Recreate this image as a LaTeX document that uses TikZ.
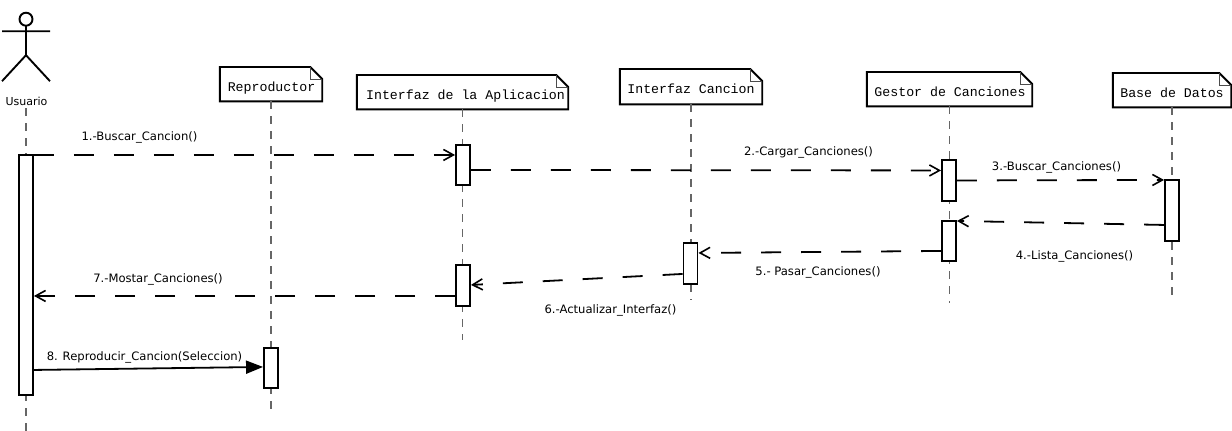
\documentclass[tikz,border=0pt]{standalone}
\usepackage{fontspec}
\setmainfont{DejaVu Sans}
\newfontfamily\notefont{Liberation Mono}
\usetikzlibrary{arrows.meta}
\newcommand{\notebox}[5]{%
  \node[notebody,minimum width=#3pt,minimum height=#4pt] (#1) at (#2) {\raisebox{-7pt}[0pt][0pt]{#5}};
  \draw[noteline] (#1.north west) -- ([xshift=-12pt]#1.north east) -- ([yshift=-12pt]#1.north east) -- (#1.south east) -- (#1.south west) -- cycle;
  \draw[foldline] ([xshift=-12pt]#1.north east) -- ([xshift=-12pt,yshift=-12pt]#1.north east) -- ([yshift=-12pt]#1.north east);
}
\tikzset{
  notebody/.style={fill=white,inner sep=0pt,font=\notefont\fontsize{13.25}{15}\selectfont,text=black},
  noteline/.style={line width=1.9pt,black},
  foldline/.style={line width=0.8pt,black!70},
  lifeline/.style={line width=1.2pt,black!60,dash pattern=on 8pt off 7pt},
  bar/.style={draw=black,fill=white,line width=1.9pt,minimum width=14pt,inner sep=0pt},
  msg/.style={line width=1.8pt,black,dash pattern=on 20pt off 20pt,-{Straight Barb[length=10pt,width=11pt,line width=1.6pt]}},
  syncmsg/.style={line width=1.8pt,black,-{Triangle[length=17pt,width=13pt]}},
  lbl/.style={inner sep=0pt,font=\fontsize{11.6}{13}\selectfont,text=black},
  actor/.style={line width=1.9pt,black}
}
\begin{document}
\begin{tikzpicture}[x=1pt,y=-1pt]
\useasboundingbox (0,0) rectangle (1232,431);
\fill[white] (0,0) rectangle (1232,431);
\begin{scope}[yshift=-0.2pt]
% actor
\draw[actor] (26,19) circle (6.5pt);
\draw[actor] (26,25.5) -- (26,55) (2,31) -- (50,31) (2,81) -- (26,55) -- (50,81);
\node[lbl,minimum height=13pt,font=\fontsize{11}{13}\selectfont] (usuario) at (26.5,101.5) {Usuario};
% notes
\notebox{rep}{271,84}{102}{34}{\hspace{1pt}Reproductor}
\notebox{iapp}{462.5,92}{211}{34}{\hspace{6pt}Interfaz de la Aplicacion}
\notebox{ican}{691,86.5}{142}{35}{Interfaz Cancion}
\notebox{gest}{949.5,89}{165}{34}{\hspace{1pt}Gestor de Canciones}
\notebox{bd}{1172,90}{118}{34}{Base de Datos}
% lifeline ends
\coordinate (eu) at (26,431);
\coordinate (er) at (271,412);
\coordinate (ea) at (462.5,340);
\coordinate (ec) at (691,300);
\coordinate (eg) at (949.5,303);
\coordinate (eb) at (1172,297);
\draw[lifeline] (usuario.south -| eu) -- (eu);
\draw[lifeline] (rep.south) -- (er);
\draw[lifeline] (iapp.south) -- (ea);
\draw[lifeline] (ican.south) -- (ec);
\draw[lifeline] (gest.south) -- (eg);
\draw[lifeline] (bd.south) -- (eb);
% activation bars
\node[bar,minimum height=240pt] (bu) at (26,275) {};
\node[bar,minimum height=40pt] (br) at (271,368) {};
\node[bar,minimum height=40pt] (ba1) at (463,165) {};
\node[bar,minimum height=41pt] (ba2) at (463,285.5) {};
\node[bar,minimum height=41pt] (bc) at (690.5,263.5) {};
\node[bar,minimum height=41pt] (bg1) at (949,180.5) {};
\node[bar,minimum height=40pt] (bg2) at (949,241) {};
\node[bar,minimum height=61pt] (bb) at (1172,210.5) {};
% messages
\draw[msg] ([yshift=-0.7pt]bu.north east) -- ([yshift=-10.7pt]ba1.north west);
\draw[msg] ([yshift=-25.7pt]ba1.north east) -- ([yshift=-11.2pt]bg1.north west);
\draw[msg] ([yshift=-21.2pt]bg1.north east) -- ([yshift=-0.7pt]bb.north west);
\draw[msg] ([yshift=-45.7pt]bb.north west) -- ([yshift=-0.7pt]bg2.north east);
\draw[msg] ([yshift=-30.7pt]bg2.north west) -- ([yshift=-10.7pt]bc.north east);
\draw[msg] ([yshift=-31.7pt]bc.north west) -- ([yshift=-20.7pt]ba2.north east);
\draw[msg] ([yshift=-31.7pt]ba2.north west) -- ([yshift=-141.7pt]bu.north east);
\draw[syncmsg] ([yshift=-215.7pt]bu.north east) -- ([yshift=-19.7pt]br.north west);
% labels
\node[lbl] (m1) at (139.5,137) {1.-Buscar\_Cancion()};
\node[lbl] (m2) at (808.5,152) {2.-Cargar\_Canciones()};
\node[lbl] (m3) at (1056.5,167) {3.-Buscar\_Canciones()};
\node[lbl] (m4) at (1074.5,256.5) {4.-Lista\_Canciones()};
\node[lbl] (m5) at (818,272) {5.- Pasar\_Canciones()};
\node[lbl] (m6) at (610.5,310) {6.-Actualizar\_Interfaz()};
\node[lbl] (m7) at (158,279) {7.-Mostar\_Canciones()};
\node[lbl] (m8) at (144.5,357) {8. Reproducir\_Cancion(Seleccion)};
\end{scope}
\end{tikzpicture}
\end{document}
